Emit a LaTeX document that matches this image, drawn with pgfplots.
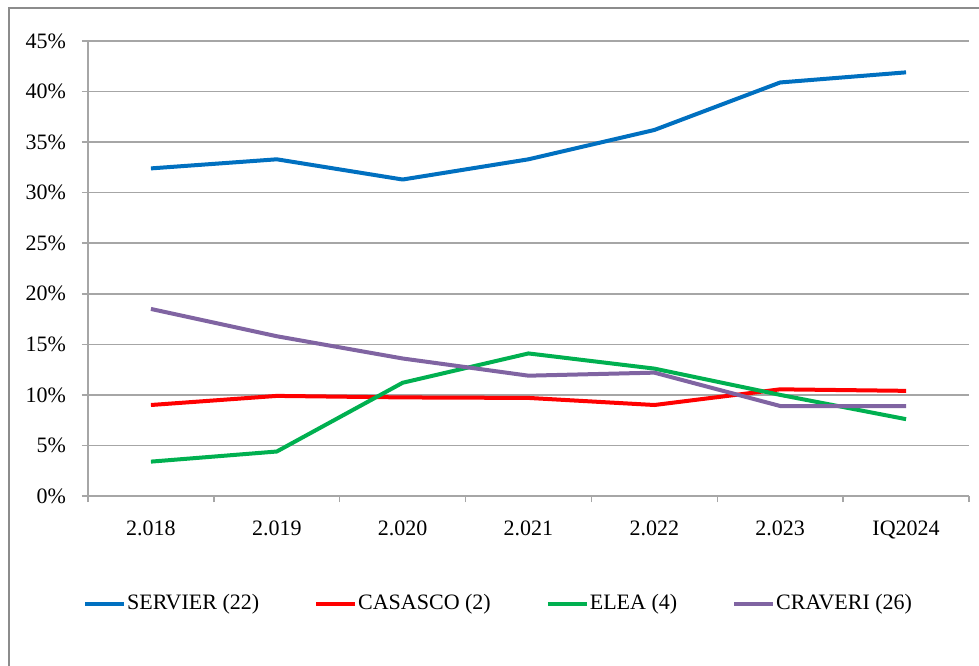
\documentclass[border=0pt]{standalone}
\usepackage{fontspec}
\setmainfont{Liberation Serif}
\usepackage{pgfplots}
\pgfplotsset{compat=1.18}
\definecolor{servier}{HTML}{0070C0}
\definecolor{casasco}{HTML}{FF0000}
\definecolor{elea}{HTML}{00B050}
\definecolor{craveri}{HTML}{8064A2}
\definecolor{gridgray}{HTML}{A6A6A6}
\definecolor{framegray}{HTML}{8C8C8C}

\begin{document}
\begin{tikzpicture}
% page = 979 x 665 px, 1 px = 0.5pt, plot area lower-left at px (88,496)
\useasboundingbox (-44pt,-84.5pt) rectangle (445.5pt,248pt);
\fill[white] (-44pt,-84.5pt) rectangle (445.5pt,248pt);
\draw[framegray, line width=0.75pt] (-39.5pt,-95pt) -- (-39.5pt,244pt) -- (460pt,244pt);
\begin{axis}[
    at={(0pt,0pt)}, anchor=south west,
    scale only axis,
    width=440.5pt, height=227.5pt,
    font=\fontsize{11}{13}\selectfont,
    /pgf/number format/assume math mode=true,
    xmin=-0.5, xmax=6.5,
    ymin=0, ymax=45,
    axis x line=bottom, axis y line=left,
    axis line style={gridgray, line width=0.75pt, -},
    xtick={0,1,2,3,4,5,6},
    xticklabels={2.018,2.019,2.020,2.021,2.022,2.023,IQ2024},
    minor xtick={-0.5,0.5,1.5,2.5,3.5,4.5,5.5,6.5},
    major x tick style={draw=none},
    minor x tick style={gridgray, line width=0.75pt},
    minor tick length=3pt,
    ytick={0,5,...,45},
    yticklabel={\pgfmathprintnumber{\tick}\%},
    major y tick style={gridgray, line width=0.75pt},
    major tick length=3pt,
    tick align=outside,
    ymajorgrids=true,
    grid style={gridgray, line width=0.75pt},
    xticklabel style={yshift=-6pt},
    yticklabel style={xshift=-4.5pt},
    legend columns=4,
    legend cell align=left,
    legend style={at={(axis description cs:-0.006,-0.237)}, anchor=west,
        draw=none, fill=none, inner sep=0pt,
        nodes={inner xsep=0.5pt, inner ysep=1pt},
        /tikz/every even column/.append style={column sep=27pt}},
    legend image code/.code={\draw[#1] (0pt,0pt) -- (19.5pt,0pt);},
    every axis plot/.append style={line width=2pt, line join=round},
]
\addplot[servier] coordinates {(0,32.4) (1,33.3) (2,31.3) (3,33.3) (4,36.2) (5,40.9) (6,41.9)};
\addlegendentry{SERVIER (22)}
\addplot[casasco] coordinates {(0,9.0) (1,9.9) (2,9.75) (3,9.7) (4,9.0) (5,10.55) (6,10.4)};
\addlegendentry{CASASCO (2)}
\addplot[elea] coordinates {(0,3.4) (1,4.4) (2,11.2) (3,14.1) (4,12.6) (5,10.0) (6,7.6)};
\addlegendentry{ELEA (4)}
\addplot[craveri] coordinates {(0,18.5) (1,15.8) (2,13.6) (3,11.9) (4,12.2) (5,8.9) (6,8.9)};
\addlegendentry{CRAVERI (26)}
\end{axis}
\end{tikzpicture}
\end{document}
